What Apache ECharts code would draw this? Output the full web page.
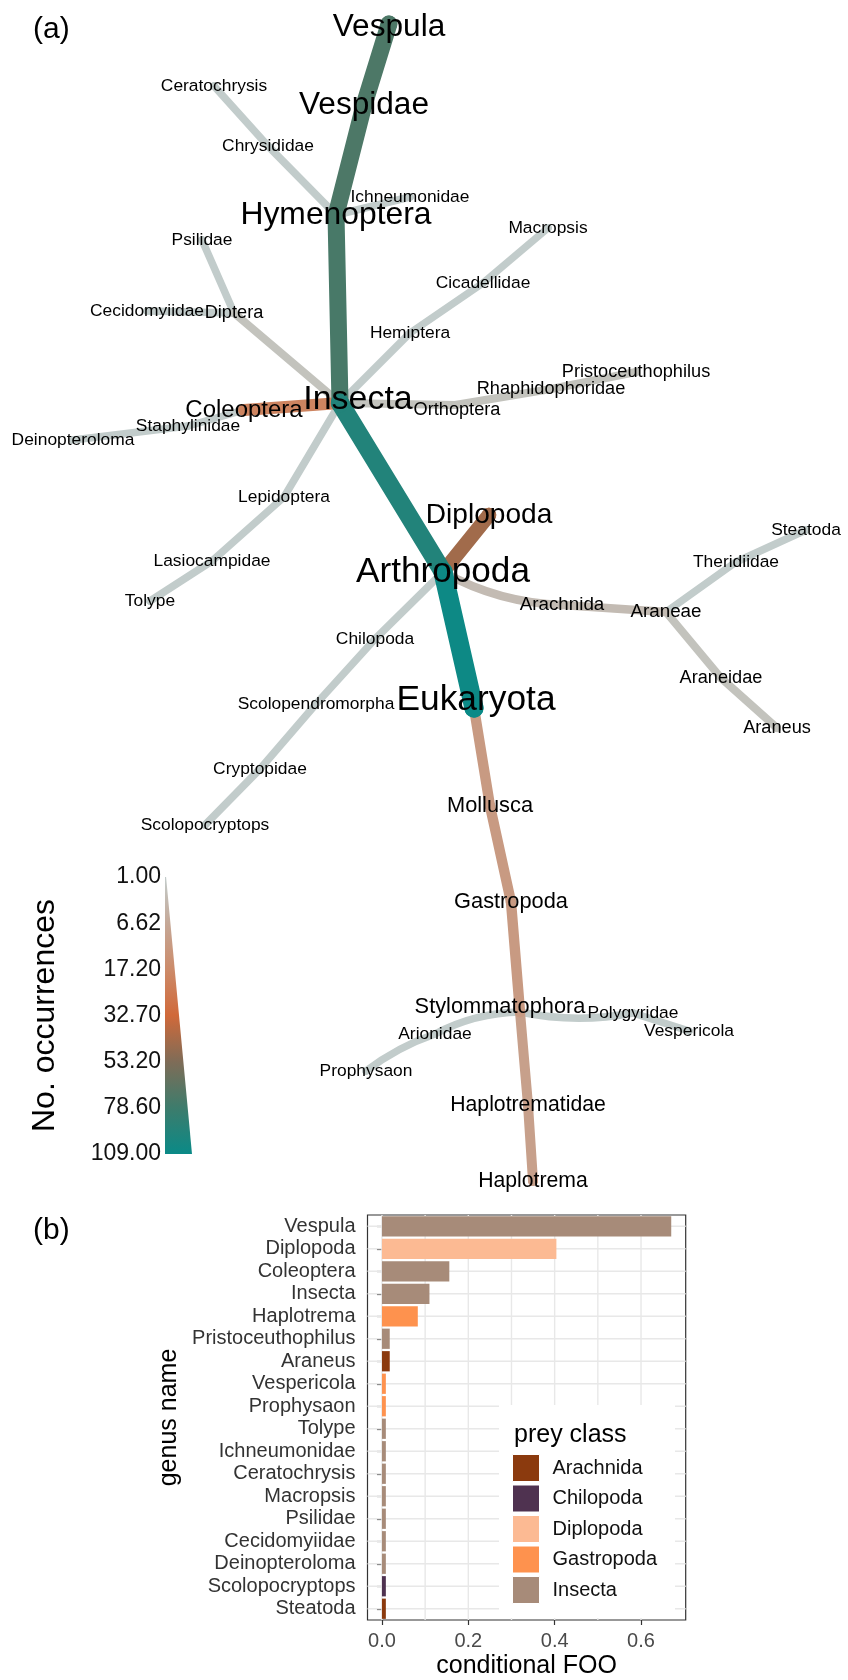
<!DOCTYPE html>
<html>
<head>
<meta charset="utf-8">
<script src="https://cdn.jsdelivr.net/npm/echarts@6/dist/echarts.min.js"></script>
<style>
  html, body { margin: 0; padding: 0; background: #fff; }
  #chart { width: 848px; height: 1680px; }
</style>
</head>
<body>
<div id="chart"></div>
<script>
// ---------- panel (a): heat tree of prey taxa ----------
const taxa = [
  'Eukaryota', 'Arthropoda', 'Insecta', 'Hymenoptera', 'Vespidae', 'Vespula',
  'Chrysididae', 'Ceratochrysis', 'Ichneumonidae', 'Diptera', 'Psilidae', 'Cecidomyiidae',
  'Hemiptera', 'Cicadellidae', 'Macropsis', 'Coleoptera', 'Staphylinidae', 'Deinopteroloma',
  'Orthoptera', 'Rhaphidophoridae', 'Pristoceuthophilus', 'Lepidoptera', 'Lasiocampidae', 'Tolype',
  'Diplopoda', 'Arachnida', 'Araneae', 'Theridiidae', 'Steatoda', 'Araneidae', 'Araneus',
  'Chilopoda', 'Scolopendromorpha', 'Cryptopidae', 'Scolopocryptops',
  'Mollusca', 'Gastropoda', 'Stylommatophora', 'Arionidae', 'Prophysaon',
  'Polygyridae', 'Vespericola', 'Haplotrematidae', 'Haplotrema'
];
const parents = [
  null, 'Eukaryota', 'Arthropoda', 'Insecta', 'Hymenoptera', 'Vespidae',
  'Hymenoptera', 'Chrysididae', 'Hymenoptera', 'Insecta', 'Diptera', 'Diptera',
  'Insecta', 'Hemiptera', 'Cicadellidae', 'Insecta', 'Coleoptera', 'Staphylinidae',
  'Insecta', 'Orthoptera', 'Rhaphidophoridae', 'Insecta', 'Lepidoptera', 'Lasiocampidae',
  'Arthropoda', 'Arthropoda', 'Arachnida', 'Araneae', 'Theridiidae', 'Araneae', 'Araneidae',
  'Arthropoda', 'Chilopoda', 'Scolopendromorpha', 'Cryptopidae',
  'Eukaryota', 'Mollusca', 'Gastropoda', 'Stylommatophora', 'Arionidae',
  'Stylommatophora', 'Polygyridae', 'Stylommatophora', 'Haplotrematidae'
];
const occurrences = [
  109, 107, 94, 74, 72, 72,
  1, 1, 1, 2, 1, 1,
  1, 1, 1, 20, 1, 1,
  2, 2, 2, 1, 1, 1,
  44, 3, 3, 1, 1, 2, 2,
  1, 1, 1, 1,
  11, 11, 11, 1, 1,
  1, 1, 9, 9
];
// tree layout (x, y in the pixel space of the page)
const layoutX = [
  474, 443, 340, 336, 364, 389,
  268, 214, 410, 234, 202, 147,
  410, 483, 548, 244, 188, 73,
  455, 551, 636, 284, 212, 150,
  489, 562, 666, 736, 806, 721, 777,
  375, 316, 260, 205,
  490, 511, 520, 435, 366,
  633, 689, 528, 533
];
const layoutY = [
  708, 572, 403, 215, 105, 24,
  146, 86, 197, 313, 240, 311,
  333, 283, 228, 410, 426, 440,
  405, 389, 372, 497, 561, 601,
  515, 605, 612, 562, 530, 678, 728,
  639, 704, 769, 825,
  806, 902, 1012, 1034, 1071,
  1013, 1031, 1105, 1181
];

// colour key tick labels
const keyTicks = ['1.00', '6.62', '17.20', '32.70', '53.20', '78.60', '109.00'];

// ---------- panel (b): conditional frequency of occurrence ----------
const genera = [
  'Vespula', 'Diplopoda', 'Coleoptera', 'Insecta', 'Haplotrema', 'Pristoceuthophilus',
  'Araneus', 'Vespericola', 'Prophysaon', 'Tolype', 'Ichneumonidae', 'Ceratochrysis',
  'Macropsis', 'Psilidae', 'Cecidomyiidae', 'Deinopteroloma', 'Scolopocryptops', 'Steatoda'
];
const conditionalFOO = [
  0.670, 0.404, 0.156, 0.110, 0.083, 0.018,
  0.018, 0.009, 0.009, 0.009, 0.009, 0.009,
  0.009, 0.009, 0.009, 0.009, 0.009, 0.009
];
const preyClassOf = [
  'Insecta', 'Diplopoda', 'Insecta', 'Insecta', 'Gastropoda', 'Insecta',
  'Arachnida', 'Gastropoda', 'Gastropoda', 'Insecta', 'Insecta', 'Insecta',
  'Insecta', 'Insecta', 'Insecta', 'Insecta', 'Chilopoda', 'Arachnida'
];
const preyClasses = ['Arachnida', 'Chilopoda', 'Diplopoda', 'Gastropoda', 'Insecta'];
const fooTicks = [0, 0.2, 0.4, 0.6];
const fooGrid = [0, 0.1, 0.2, 0.3, 0.4, 0.5, 0.6];

// ---------- styling ----------
const FONT = 'Liberation Sans, Arial, sans-serif';
const classColours = {
  Arachnida: '#8b3a0e',
  Chilopoda: '#4f3250',
  Diplopoda: '#fcba93',
  Gastropoda: '#fe924e',
  Insecta: '#a78b79'
};
const rampStops = ['#c2cccb', '#c5a897', '#cc8b6a', '#d0693a', '#7f6c57', '#3d7c6c', '#0a8a87'];
const maxOcc = Math.max(...occurrences);

function hexToRgb(h) {
  return [parseInt(h.slice(1, 3), 16), parseInt(h.slice(3, 5), 16), parseInt(h.slice(5, 7), 16)];
}
// colour ramp on a square-root scale between 1 and the largest count
function rampColour(c) {
  const t = (Math.sqrt(c) - 1) / (Math.sqrt(maxOcc) - 1);
  const seg = Math.min(Math.max(t, 0) * (rampStops.length - 1), rampStops.length - 1 - 1e-6);
  const i = Math.floor(seg), f = seg - i;
  const a = hexToRgb(rampStops[i]), b = hexToRgb(rampStops[i + 1]);
  const m = a.map((v, k) => Math.round(v + (b[k] - v) * f));
  return 'rgb(' + m.join(',') + ')';
}
const edgeWidth = c => 7.5 + 1.25 * (Math.sqrt(c) - 1);
const labelSize = c => 15.5 + 1.9 * Math.sqrt(c);

// nudges for labels that sit beside their node
const labelNudge = {
  Insecta: [18, -3],
  Stylommatophora: [-20, -5],
  Eukaryota: [2, -8],
  Vespula: [0, 3],
  Orthoptera: [2, 5]
};

const treeNodes = taxa.map((name, i) => ({
  name: name,
  value: [layoutX[i], layoutY[i]],
  symbolSize: edgeWidth(occurrences[i]),
  itemStyle: { color: rampColour(occurrences[i]) },
  label: {
    fontSize: labelSize(occurrences[i]),
    offset: labelNudge[name] || [0, 0]
  }
}));

// gently bowed branches
const linkBend = { Arachnida: -0.12, Arionidae: -0.12, Prophysaon: -0.08, Polygyridae: -0.1 };

// thinner edges first so heavier branches are drawn on top
const treeLinks = taxa
  .map((name, i) => ({ name, i }))
  .filter(d => parents[d.i] !== null)
  .sort((a, b) => occurrences[a.i] - occurrences[b.i])
  .map(d => ({
    source: parents[d.i],
    target: d.name,
    lineStyle: {
      width: edgeWidth(occurrences[d.i]),
      color: rampColour(occurrences[d.i]),
      curveness: linkBend[d.name] || 0
    }
  }));

const chart = echarts.init(document.getElementById('chart'), null, { renderer: 'canvas' });

const option = {
  animation: false,
  backgroundColor: '#ffffff',
  textStyle: { fontFamily: FONT },
  title: [
    { text: '(a)', left: 28, top: 10, textStyle: { fontSize: 30, fontWeight: 'normal', color: '#000', fontFamily: FONT } },
    { text: '(b)', left: 28, top: 1211, textStyle: { fontSize: 30, fontWeight: 'normal', color: '#000', fontFamily: FONT } },
    { text: 'prey class', left: 509, top: 1418, z: 10, textStyle: { fontSize: 25, fontWeight: 'normal', color: '#000', fontFamily: FONT } }
  ],
  grid: [
    { left: 0, top: 0, width: 848, height: 1680, show: false },            // tree
    { left: 165, top: 877, width: 27, height: 277, show: false },          // colour key
    { left: 367.5, top: 1215, width: 318.2, height: 405, show: true,       // bar panel
      backgroundColor: '#fff', borderColor: '#333', borderWidth: 1.2 }
  ],
  xAxis: [
    { gridIndex: 0, type: 'value', min: 0, max: 848, show: false },
    { gridIndex: 1, type: 'value', min: 0, max: 1, show: false },
    {
      gridIndex: 2, type: 'value', min: -0.0335, max: 0.7035,
      name: 'conditional FOO', nameLocation: 'middle', nameGap: 34,
      nameTextStyle: { fontSize: 25, color: '#000', fontFamily: FONT },
      axisLine: { show: false },
      splitLine: { show: false },
      axisTick: { show: true, length: 5, customValues: fooTicks, lineStyle: { color: '#333', width: 1.2 } },
      axisLabel: {
        customValues: fooTicks, margin: 11, fontSize: 20, color: '#4a4a4a', fontFamily: FONT,
        formatter: v => Number(v).toFixed(1)
      }
    }
  ],
  yAxis: [
    { gridIndex: 0, type: 'value', min: 0, max: 1680, inverse: true, show: false },
    {
      gridIndex: 1, type: 'category', data: keyTicks, inverse: true, boundaryGap: false,
      name: 'No. occurrences', nameLocation: 'middle', nameRotate: 90, nameGap: 104,
      nameTextStyle: { fontSize: 32, color: '#000', fontFamily: FONT },
      axisLine: { show: false }, axisTick: { show: false }, splitLine: { show: false },
      axisLabel: { margin: 4, fontSize: 23, color: '#111', fontFamily: FONT, interval: 0 }
    },
    {
      gridIndex: 2, type: 'category', data: genera, inverse: true,
      name: 'genus name', nameLocation: 'middle', nameRotate: 90, nameGap: 186,
      nameTextStyle: { fontSize: 25, color: '#000', fontFamily: FONT },
      axisLine: { show: false },
      axisTick: { show: true, alignWithLabel: true, length: 5, lineStyle: { color: '#333', width: 1.2 } },
      splitLine: { show: false },
      axisLabel: { margin: 12, fontSize: 20, color: '#333', fontFamily: FONT, interval: 0 }
    }
  ],
  legend: {
    data: preyClasses,
    orient: 'vertical',
    left: 499, top: 1405,
    padding: [49, 18, 14, 13],
    backgroundColor: '#ffffff',
    itemWidth: 27, itemHeight: 27, itemGap: 2.5,
    icon: 'rect',
    itemStyle: { borderColor: '#fff', borderWidth: 1 },
    selectedMode: false,
    textStyle: { fontSize: 20, color: '#111', fontFamily: FONT, padding: [0, 0, 0, 8] }
  },
  series: [
    // heat tree
    {
      type: 'graph',
      coordinateSystem: 'cartesian2d',
      xAxisIndex: 0, yAxisIndex: 0,
      symbol: 'circle',
      data: treeNodes,
      links: treeLinks,
      edgeSymbol: ['none', 'none'],
      lineStyle: { opacity: 1, cap: 'round' },
      label: { show: true, position: 'inside', color: '#000', fontFamily: FONT },
      emphasis: { disabled: true },
      silent: true,
      z: 3
    },
    // colour / size key wedge
    {
      type: 'custom',
      xAxisIndex: 1, yAxisIndex: 1,
      silent: true,
      data: [[0, 0]],
      renderItem: function (params, api) {
        const last = keyTicks.length - 1;
        const tl = api.coord([0, 0]);
        const tr = api.coord([0.04, 0]);
        const br = api.coord([1, last]);
        const bl = api.coord([0, last]);
        return {
          type: 'polygon',
          shape: { points: [tl, tr, br, bl] },
          style: {
            fill: {
              type: 'linear', x: 0, y: 0, x2: 0, y2: 1,
              colorStops: rampStops.map((c, k) => ({ offset: k / (rampStops.length - 1), color: c }))
            }
          }
        };
      }
    },
    // panel grid: vertical lines
    {
      type: 'custom',
      xAxisIndex: 2, yAxisIndex: 2,
      silent: true, z: 1,
      data: fooGrid.map(v => [v, 0]),
      renderItem: function (params, api) {
        const x = api.coord([api.value(0), 0])[0];
        const cs = params.coordSys;
        return { type: 'line', shape: { x1: x, y1: cs.y, x2: x, y2: cs.y + cs.height },
                 style: { stroke: '#e8e8e8', lineWidth: 1.4 } };
      }
    },
    // panel grid: horizontal lines at each genus
    {
      type: 'custom',
      xAxisIndex: 2, yAxisIndex: 2,
      silent: true, z: 1,
      data: genera.map((g, i) => [0, i]),
      renderItem: function (params, api) {
        const y = api.coord([0, api.value(1)])[1];
        const cs = params.coordSys;
        return { type: 'line', shape: { x1: cs.x, y1: y, x2: cs.x + cs.width, y2: y },
                 style: { stroke: '#e8e8e8', lineWidth: 1.4 } };
      }
    }
  ].concat(preyClasses.map(cls => ({
    type: 'bar',
    name: cls,
    stack: 'foo',
    xAxisIndex: 2, yAxisIndex: 2,
    barCategoryGap: '10%',
    itemStyle: { color: classColours[cls] },
    emphasis: { disabled: true },
    z: 2,
    data: genera.map((g, i) => (preyClassOf[i] === cls ? conditionalFOO[i] : null))
  })))
};

chart.setOption(option);
</script>
</body>
</html>
